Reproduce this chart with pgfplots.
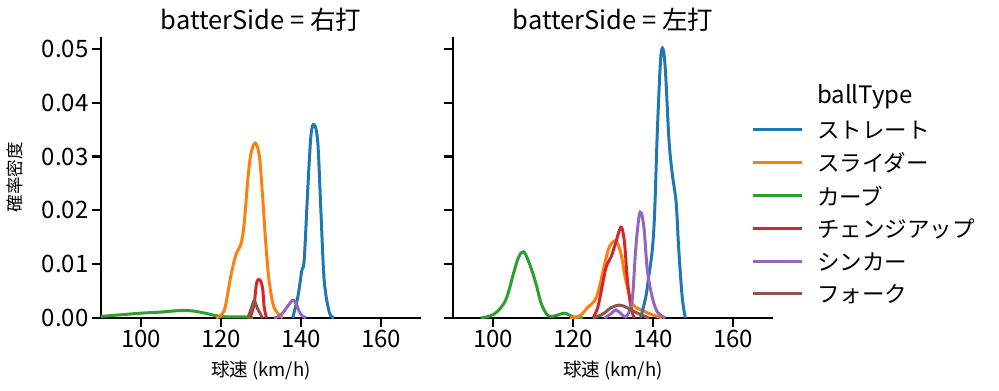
\documentclass[border=0pt]{standalone}
\usepackage{pgfplots}
\pgfplotsset{compat=1.18}
\usepackage{fontspec}
\setmainfont{Noto Sans CJK JP}
\definecolor{c1}{HTML}{1F77B4}
\definecolor{c2}{HTML}{FF7F0E}
\definecolor{c3}{HTML}{2CA02C}
\definecolor{c4}{HTML}{D62728}
\definecolor{c5}{HTML}{9467BD}
\definecolor{c6}{HTML}{8C564B}
\pgfplotsset{
  kde/.style={
    scale only axis, width=320pt, height=281pt,
    xmin=90, xmax=170, ymin=0, ymax=0.0522,
    xtick={100,120,140,160},
    ytick={0,0.01,0.02,0.03,0.04,0.05},
    axis x line*=bottom, axis y line*=left,
    axis line style={line width=2.2pt, black},
    tick align=outside, tick style={line width=2.2pt, black},
    major tick length=9pt,
    /pgf/number format/assume math mode=true,
    tick label style={font=\fontsize{24pt}{28pt}\selectfont},
    yticklabel style={/pgf/number format/fixed, /pgf/number format/fixed zerofill, /pgf/number format/precision=2},
    scaled y ticks=false,
    xlabel={球速 (km/h)},
    xlabel style={font=\fontsize{18.5pt}{21pt}\selectfont, yshift=-6pt},
    title style={font=\fontsize{25.5pt}{29pt}\selectfont, yshift=-4pt},
    every axis plot/.append style={line width=3pt, smooth, tension=0.55, no marks},
    clip=true,
  }
}
\begin{document}
\begin{tikzpicture}[x=1pt,y=1pt]
\useasboundingbox (0,0) rectangle (999,391);
\begin{axis}[kde, at={(101pt,73pt)}, anchor=south west,
  title={batterSide = 右打},
  ylabel={確率密度},
  ylabel style={font=\fontsize{17.5pt}{20pt}\selectfont, yshift=12pt}]
% green
\addplot[c3] coordinates {(85,0.0001)(90,0.0003)(95,0.0006)(100,0.0009)(105,0.0011)(110,0.0014)(113,0.0013)(116,0.0009)(119,0.0004)(122,0.0002)(126,0.0002)(128,0)};
% orange
\addplot[c2] coordinates {(118.7,0)(120.8,0.0014)(122.5,0.008)(123.75,0.0118)(125,0.0138)(125.8,0.0176)(126.7,0.0257)(127.5,0.0306)(128.6,0.0325)(129.6,0.030)(130.4,0.0226)(131.25,0.0133)(132.1,0.0065)(133.3,0.0019)(135.4,0)};
% blue
\addplot[c1] coordinates {(137.9,0)(139.2,0.0039)(140.2,0.0088)(140.8,0.0108)(141.7,0.024)(142.5,0.034)(143.3,0.0359)(144.2,0.0326)(145,0.0195)(145.8,0.007)(147.1,0.001)(148.3,0)};
% red
\addplot[c4] coordinates {(127.3,0)(128.3,0.0027)(128.9,0.0065)(129.7,0.0071)(130.4,0.0055)(130.8,0.002)(131.4,0)};
% purple
\addplot[c5] coordinates {(133.2,0)(134.5,0.0003)(135.5,0.001)(136.5,0.002)(137.5,0.003)(138.1,0.0033)(138.8,0.0027)(139.5,0.0013)(140.3,0.0004)(141.3,0)};
% brown
\addplot[c6] coordinates {(126.7,0)(127.6,0.0018)(128.3,0.0032)(129.1,0.0018)(130.4,0)};
\end{axis}
\begin{axis}[kde, at={(453pt,73pt)}, anchor=south west,
  title={batterSide = 左打},
  yticklabels={}]
% green
\addplot[c3] coordinates {(96.9,0)(100.2,0.0007)(103.1,0.0032)(105.1,0.0082)(106.4,0.0113)(107.6,0.0123)(108.8,0.0107)(110.5,0.007)(112.1,0.0026)(113.8,0.0004)(115.5,0.0004)(117.9,0.0009)(120,0.0002)(122.5,0)};
% orange
\addplot[c2] coordinates {(119.2,0)(121.7,0.0004)(123.7,0.002)(125.4,0.0032)(126.6,0.0057)(127.9,0.010)(129.1,0.0132)(130.7,0.0143)(132,0.0119)(133.2,0.007)(134.9,0.0026)(137.4,0.0014)(139.8,0.0006)(142.3,0)};
% blue
\addplot[c1] coordinates {(136.9,0)(138.2,0.0039)(138.8,0.007)(139.8,0.0125)(140.4,0.0194)(141.1,0.035)(141.9,0.048)(142.5,0.050)(143.1,0.046)(144,0.033)(144.8,0.0269)(145.8,0.0213)(146.4,0.0132)(147.3,0.0039)(148.1,0)};
% red
\addplot[c4] coordinates {(125,0)(126.2,0.002)(127.4,0.0063)(128.3,0.0095)(129.5,0.0113)(130.6,0.0138)(131.6,0.0163)(132.2,0.0168)(132.9,0.0138)(133.6,0.007)(134.5,0.002)(135.3,0)};
% purple
\addplot[c5] coordinates {(127.9,0)(129.5,0.0008)(130.7,0.0015)(132,0.0008)(133.2,0.0002)(134.2,0.0015)(134.9,0.004)(135.7,0.013)(136.5,0.0188)(137.1,0.0195)(137.8,0.0163)(138.6,0.0088)(139.8,0.0039)(141.1,0.0011)(143.1,0)};
% brown
\addplot[c6] coordinates {(125,0)(127.4,0.0007)(129.5,0.0019)(131.6,0.0024)(133.6,0.0019)(136.1,0.0009)(139,0)};
\end{axis}
% legend
\node[font=\fontsize{24pt}{28pt}\selectfont, anchor=center] at (865,294) {ballType};
\foreach \c/\t/\yy in {c1/ストレート/261, c2/スライダー/228, c3/カーブ/195, c4/チェンジアップ/162, c5/シンカー/129, c6/フォーク/97}{
  \draw[\c, line width=3pt] (753,\yy) -- (802,\yy);
  \node[font=\fontsize{22.5pt}{26pt}\selectfont, anchor=west, inner sep=0pt] at (817,\yy) {\t};
}
\end{tikzpicture}
\end{document}
